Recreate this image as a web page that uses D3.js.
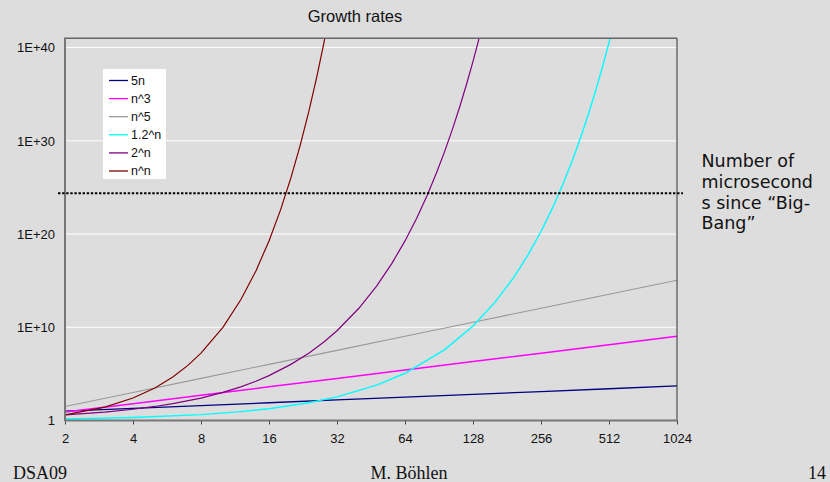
<!DOCTYPE html>
<html>
<head>
<meta charset="utf-8">
<script src="https://cdn.jsdelivr.net/npm/d3@7/dist/d3.min.js"></script>
<style>
  html, body { margin: 0; padding: 0; background: #dddddd; }
  svg { display: block; }
</style>
</head>
<body>
<svg width="830" height="482"></svg>
<script>
// x positions (n) shared by the power series
var nPow = [2, 4, 8, 16, 32, 64, 128, 256, 512, 1024];
var v5n = [10, 20, 40, 80, 160, 320, 640, 1280, 2560, 5120];
var vN3 = [8, 64, 512, 4096, 32768, 262144, 2097152, 16777216, 134217728, 1073741824];
var vN5 = [32, 1024, 32768, 1048576, 3.355e7, 1.074e9, 3.436e10, 1.100e12, 3.518e13, 1.126e15];

var nExp12 = [2, 4, 8, 12, 16, 24, 32, 48, 64, 96, 128, 160, 192, 224, 256, 288, 320, 352, 384, 416, 448, 480, 512, 544];
var vExp12 = [1.44, 2.0736, 4.2998, 8.916, 18.488, 79.5, 341.8, 6319, 1.168e5, 3.994e7, 1.365e10, 4.667e12,
  1.595e15, 5.454e17, 1.864e20, 6.372e22, 2.178e25, 7.444e27, 2.545e30, 8.698e32, 2.973e35, 1.016e38, 3.474e40, 1.188e43];

var nExp2 = [2, 3, 4, 5, 6, 8, 10, 12, 14, 16, 20, 24, 28, 32, 40, 48, 56, 64, 72, 80, 88, 96, 104, 112, 120, 128, 136, 144];
var vExp2 = [4, 8, 16, 32, 64, 256, 1024, 4096, 16384, 65536, 1048576, 16777216, 268435456, 4294967296,
  1.0995e12, 2.8147e14, 7.2058e16, 1.8447e19, 4.7224e21, 1.2089e24, 3.0949e26, 7.9228e28, 2.0282e31,
  5.1923e33, 1.3292e36, 3.4028e38, 8.7112e40, 2.2301e43];

var nNN = [2, 3, 4, 5, 6, 7, 8, 10, 12, 14, 16, 18, 20, 22, 24, 26, 28, 30];
var vNN = [4, 27, 256, 3125, 46656, 823543, 16777216, 1e10, 8.916e12, 1.111e16, 1.845e19, 3.934e22,
  1.049e26, 3.412e29, 1.334e33, 6.156e36, 3.323e40, 2.059e44];

var seriesNames = ['5n', 'n^3', 'n^5', '1.2^n', '2^n', 'n^n'];
var seriesColors = ['#000080', '#ff00ff', '#999999', '#00ffff', '#800080', '#800000'];
var seriesWidths = [1.3, 1.5, 1.1, 1.4, 1.2, 1.2];
var seriesN = [nPow, nPow, nPow, nExp12, nExp2, nNN];
var seriesV = [v5n, vN3, vN5, vExp12, vExp2, vNN];

var xTicks = [2, 4, 8, 16, 32, 64, 128, 256, 512, 1024];
var yTicks = [1, 1e10, 1e20, 1e30, 1e40];
var yTickLabels = ['1', '1E+10', '1E+20', '1E+30', '1E+40'];
var bigBang = 2.4e24;
var noteLines = ['Number of', 'microsecond', 's since \u201cBig-', 'Bang\u201d'];

var plotLeft = 65, plotRight = 677, plotTop = 38.3, plotBottom = 420.5;

var svg = d3.select('svg');

var x = d3.scaleLog().base(2).domain([2, 1024]).range([plotLeft, plotRight]);
var y = d3.scaleLog().domain([1, 1e41]).range([plotBottom, plotTop]);

// gridlines
svg.append('g')
  .selectAll('line')
  .data(yTicks.slice(1))
  .enter().append('line')
  .attr('x1', plotLeft).attr('x2', plotRight)
  .attr('y1', function(d) { return y(d); })
  .attr('y2', function(d) { return y(d); })
  .attr('stroke', '#ffffff')
  .attr('stroke-width', 1);

svg.append('clipPath').attr('id', 'plot')
  .append('rect')
  .attr('x', plotLeft).attr('y', plotTop)
  .attr('width', plotRight - plotLeft).attr('height', plotBottom - plotTop);

var line = d3.line()
  .x(function(d) { return x(d[0]); })
  .y(function(d) { return y(d[1]); });

var lines = svg.append('g').attr('clip-path', 'url(#plot)');
seriesNames.forEach(function(name, i) {
  var pts = seriesN[i].map(function(n, j) { return [n, seriesV[i][j]]; });
  lines.append('path')
    .attr('d', line(pts))
    .attr('fill', 'none')
    .attr('stroke', seriesColors[i])
    .attr('stroke-width', seriesWidths[i]);
});

// frame
svg.append('line').attr('x1', plotLeft).attr('x2', plotRight).attr('y1', plotTop).attr('y2', plotTop)
  .attr('stroke', '#666666').attr('stroke-width', 1.5);
svg.append('line').attr('x1', plotRight).attr('x2', plotRight).attr('y1', plotTop).attr('y2', plotBottom)
  .attr('stroke', '#333333').attr('stroke-width', 1);

// axes
var yAxis = d3.axisLeft(y)
  .tickValues(yTicks)
  .tickSize(0)
  .tickPadding(10)
  .tickFormat(function(d, i) { return yTickLabels[i]; });
var gy = svg.append('g').attr('transform', 'translate(' + plotLeft + ',0)').call(yAxis);

var xAxis = d3.axisBottom(x)
  .tickValues(xTicks)
  .tickSize(4)
  .tickSizeOuter(0)
  .tickPadding(9)
  .tickFormat(d3.format('d'));
var gx = svg.append('g').attr('transform', 'translate(0,' + plotBottom + ')').call(xAxis);

[gx, gy].forEach(function(g) {
  g.select('.domain').remove();
  g.selectAll('text')
    .attr('fill', '#111111')
    .style('font-family', 'Liberation Sans, Arial, sans-serif')
    .style('font-size', '13px');
});
gx.selectAll('.tick line').attr('stroke', '#444444').attr('stroke-width', 1);

svg.append('line').attr('x1', plotLeft).attr('x2', plotLeft).attr('y1', plotTop - 0.7).attr('y2', plotBottom + 0.8)
  .attr('stroke', '#777777').attr('stroke-width', 2);
svg.append('line').attr('x1', plotLeft).attr('x2', plotRight).attr('y1', plotBottom).attr('y2', plotBottom)
  .attr('stroke', '#777777').attr('stroke-width', 2);

// big bang dotted line
svg.append('line')
  .attr('x1', 58).attr('x2', 683)
  .attr('y1', y(bigBang)).attr('y2', y(bigBang))
  .attr('stroke', '#000000')
  .attr('stroke-width', 2)
  .attr('stroke-dasharray', '2.4,1.7');

// legend
var legend = svg.append('g');
legend.append('rect')
  .attr('x', 103).attr('y', 69).attr('width', 63).attr('height', 110)
  .attr('fill', '#ffffff');
seriesNames.forEach(function(name, i) {
  var cy = 80.5 + i * 18.1;
  legend.append('line')
    .attr('x1', 109).attr('x2', 128)
    .attr('y1', cy).attr('y2', cy)
    .attr('stroke', seriesColors[i])
    .attr('stroke-width', 1.3);
  legend.append('text')
    .attr('x', 131).attr('y', cy + 4.3)
    .attr('fill', '#111111')
    .style('font-family', 'Liberation Sans, Arial, sans-serif')
    .style('font-size', '12.5px')
    .text(name);
});

// title
svg.append('text')
  .attr('x', 355).attr('y', 21.5)
  .attr('text-anchor', 'middle')
  .attr('fill', '#111111')
  .style('font-family', 'Liberation Sans, Arial, sans-serif')
  .style('font-size', '16.5px')
  .text('Growth rates');

// note on the right
svg.append('g').selectAll('text')
  .data(noteLines)
  .enter().append('text')
  .attr('x', 701.5)
  .attr('y', function(d, i) { return 166.7 + i * 20.9; })
  .attr('fill', '#111111')
  .style('font-family', 'DejaVu Sans, sans-serif')
  .style('font-size', '17.5px')
  .text(function(d) { return d; });

// footer
var footer = [['DSA09', 13, 'start'], ['M. B\u00f6hlen', 409, 'middle'], ['14', 826, 'end']];
svg.append('g').selectAll('text')
  .data(footer)
  .enter().append('text')
  .attr('x', function(d) { return d[1]; })
  .attr('y', 478.5)
  .attr('text-anchor', function(d) { return d[2]; })
  .attr('fill', '#111111')
  .style('font-family', 'Liberation Serif, Times New Roman, serif')
  .style('font-size', '18px')
  .text(function(d) { return d[0]; });
</script>
</body>
</html>
